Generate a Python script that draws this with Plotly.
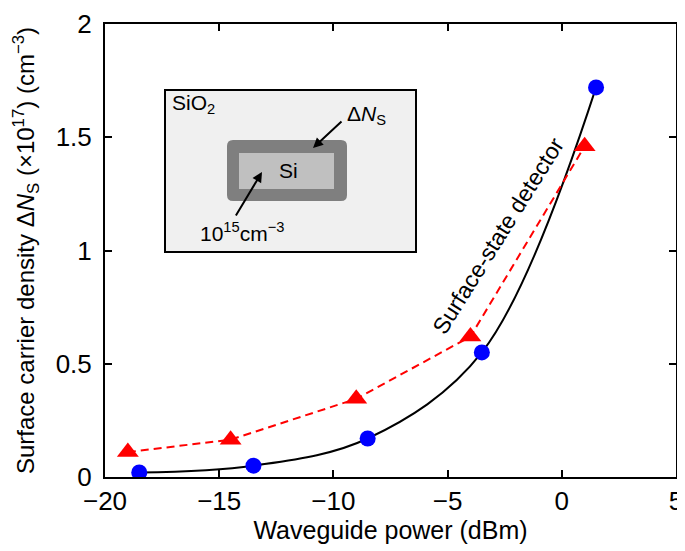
import plotly.graph_objects as go

# Data
power_circle = [-18.5, -13.5, -8.5, -3.5, 1.5]
density_circle = [0.02, 0.05, 0.17, 0.55, 1.72]
power_tri = [-19.0, -14.5, -9.0, -4.0, 1.0]
density_tri = [0.11, 0.165, 0.345, 0.62, 1.46]

xticks = [-20, -15, -10, -5, 0, 5]
xticklabels = ["−20", "−15", "−10", "−5", "0", "5"]
yticks = [0, 0.5, 1, 1.5, 2]
yticklabels = ["0", "0.5", "1", "1.5", "2"]

# page has an 8px body margin; plot area in page pixels: x 105..676, y 24..477
OFF = 8
FW, FH = 677, 543
PL, PR, PT, PB = 105, 676, 24, 477
L, T = PL - OFF, PT - OFF
R, B = FW - (PR - OFF), FH - (PB - OFF)
PW, PH = PR - PL, PB - PT


def px(x):
    return (x - PL) / PW


def py(y):
    return (PB - y) / PH


FONT = "Liberation Sans, Arial, Helvetica, sans-serif"

fig = go.Figure()

fig.add_trace(go.Scatter(
    x=power_circle, y=density_circle, mode="lines",
    line=dict(color="black", width=2, shape="spline", smoothing=1.0),
    hoverinfo="skip", showlegend=False))
fig.add_trace(go.Scatter(
    x=power_circle, y=density_circle, mode="markers",
    marker=dict(color="#0000ff", size=16, symbol="circle"),
    showlegend=False))
fig.add_trace(go.Scatter(
    x=power_tri, y=density_tri, mode="lines+markers",
    line=dict(color="#ff0000", width=2, dash="8px,5px"),
    marker=dict(color="#ff0000", size=19, symbol="triangle-up"),
    showlegend=False))


def rounded(x0, y0, x1, y1, r):
    # page pixel coords -> paper path with rounded corners
    rx, ry = r / PW, r / PH
    a, b, c, d = px(x0), py(y1), px(x1), py(y0)
    return (f"M{a+rx},{b} L{c-rx},{b} Q{c},{b} {c},{b+ry} L{c},{d-ry} Q{c},{d} {c-rx},{d} "
            f"L{a+rx},{d} Q{a},{d} {a},{d-ry} L{a},{b+ry} Q{a},{b} {a+rx},{b} Z")


shapes = [
    dict(type="rect", xref="paper", yref="paper",
         x0=px(165), x1=px(416), y0=py(252), y1=py(90),
         fillcolor="#f0f0f0", line=dict(color="black", width=2), layer="above"),
    dict(type="path", xref="paper", yref="paper",
         path=rounded(227, 140, 347, 201, 6),
         fillcolor="#7f7f7f", line=dict(width=0), layer="above"),
    dict(type="rect", xref="paper", yref="paper",
         x0=px(239), x1=px(334), y0=py(189), y1=py(153),
         fillcolor="#c0c0c0", line=dict(width=0), layer="above"),
]

annotations = [
    dict(text="SiO<sub>2</sub>", x=px(170), y=py(104), xref="paper", yref="paper",
         xanchor="left", yanchor="middle", showarrow=False,
         font=dict(size=21, color="black", family=FONT)),
    dict(text="Δ<i>N</i><sub>S</sub>", x=px(366), y=py(115), xref="paper", yref="paper",
         xanchor="center", yanchor="middle", showarrow=False,
         font=dict(size=21, color="black", family=FONT)),
    dict(text="Si", x=px(288), y=py(170), xref="paper", yref="paper",
         xanchor="center", yanchor="middle", showarrow=False,
         font=dict(size=21, color="black", family=FONT)),
    dict(text="10<sup>15</sup>cm<sup>−3</sup>", x=px(242), y=py(232), xref="paper", yref="paper",
         xanchor="center", yanchor="middle", showarrow=False,
         font=dict(size=21, color="black", family=FONT)),
    dict(x=px(313), y=py(148), ax=30, ay=-28, xref="paper", yref="paper",
         axref="pixel", ayref="pixel", text="", showarrow=True,
         arrowhead=2, arrowsize=1, arrowwidth=2, arrowcolor="black"),
    dict(x=px(262), y=py(172), ax=-27, ay=45, xref="paper", yref="paper",
         axref="pixel", ayref="pixel", text="", showarrow=True,
         arrowhead=2, arrowsize=1, arrowwidth=2, arrowcolor="black"),
    dict(text="Surface-state detector", x=px(498), y=py(236), xref="paper", yref="paper",
         xanchor="center", yanchor="middle", showarrow=False, textangle=-58,
         font=dict(size=23, color="black", family=FONT)),
]

fig.update_layout(
    width=FW, height=FH,
    margin=dict(l=L, r=R, t=T, b=B, autoexpand=False),
    paper_bgcolor="white", plot_bgcolor="white",
    font=dict(family=FONT, color="black"),
    shapes=shapes, annotations=annotations,
    xaxis=dict(range=[-20, 5], tickvals=xticks, ticktext=xticklabels,
               showgrid=False, zeroline=False, showline=True, linecolor="black",
               linewidth=2, mirror="ticks", ticks="inside", ticklen=7, tickwidth=2,
               tickcolor="black", tickfont=dict(size=26, family=FONT),
               automargin=False,
               title=dict(text="Waveguide power (dBm)", font=dict(size=25, family=FONT),
                          standoff=6)),
    yaxis=dict(range=[0, 2], tickvals=yticks, ticktext=yticklabels,
               showgrid=False, zeroline=False, showline=True, linecolor="black",
               linewidth=2, mirror="ticks", ticks="inside", ticklen=7, tickwidth=2,
               tickcolor="black", tickfont=dict(size=26, family=FONT),
               ticklabelstandoff=6, automargin=False,
               title=dict(text="Surface carrier density Δ<i>N</i><sub>S</sub> (×10<sup>17</sup>) (cm<sup>−3</sup>)",
                          font=dict(size=24, family=FONT), standoff=14)),
)

fig.write_html("out.html")
